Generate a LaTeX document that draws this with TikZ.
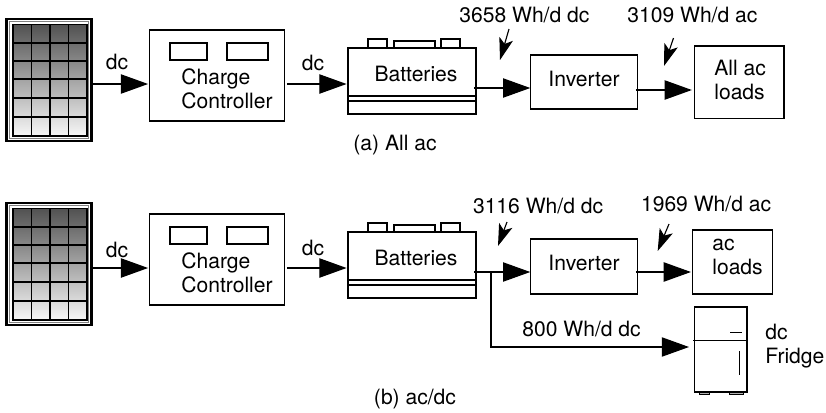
\documentclass[tikz,border=0pt]{standalone}
\usepackage{fontspec}
\setmainfont{TeX Gyre Heros}
\usetikzlibrary{arrows.meta}

\tikzset{
    unitbox/.style 2 args={draw, line width=0.65pt, inner sep=0pt, outer sep=0pt,
        minimum width=#1*0.02cm, minimum height=#2*0.02cm},
    caption/.style={inner sep=0pt, align=left, font=\fontsize{12}{13.6}\selectfont},
    flow/.style={-{Triangle[length=15.5pt, width=11pt]}, line width=0.65pt},
    tag/.style={-{Stealth[length=12.5pt, width=8pt, inset=3pt]}, line width=0.65pt},
}

\begin{document}
\begin{tikzpicture}[x=0.02cm, y=-0.02cm]
    \useasboundingbox (0,0) rectangle (826,413);

    % parts that both systems share
    \foreach \row/\dy/\dl/\dr in {A/0/62/63, B/184/250/248} {
        \node[unitbox={85}{122}, line width=1.5pt] (panel\row) at (48.75,80+\dy) {};
        \draw[gray, line width=0.4pt] (9.5,21.5+\dy) rectangle (88.5,138.5+\dy);
        \shade[top color=black!68, bottom color=black!3] (13,24.5+\dy) rectangle (87,136+\dy);
        \draw[line width=0.8pt] (13,24.5+\dy) rectangle (87,136+\dy);
        \foreach \gx in {31.5,50,68.5}
            \draw[line width=0.65pt] (\gx,24.5+\dy) -- (\gx,136+\dy);
        \foreach \gy in {43,61,79,98,117}
            \draw[line width=0.65pt] (13,\gy+\dy) -- (87,\gy+\dy);

        \node[unitbox={135}{91}] (ctrl\row) at (217,75.5+\dy) {};
        \draw[line width=0.65pt] (170,43+\dy) rectangle (207,60+\dy);
        \draw[line width=0.65pt] (227,43+\dy) rectangle (268,60+\dy);
        \node[caption, anchor=west] (ctrltext\row) at (181,88.5+\dy) {Charge\\Controller};

        \node[unitbox={128}{66}] (batt\row) at (412,81+\dy) {};
        \draw[line width=0.65pt] (348,96+\dy) -- (476,96+\dy);
        \draw[line width=0.65pt] (348,101+\dy) -- (476,101+\dy);
        \draw[line width=0.65pt] (368,48+\dy) -- (368,39+\dy) -- (387,39+\dy) -- (387,48+\dy);
        \draw[line width=0.65pt] (394,48+\dy) -- (394,41+\dy) -- (435,41+\dy) -- (435,48+\dy);
        \draw[line width=0.65pt] (441,48+\dy) -- (441,39+\dy) -- (460,39+\dy) -- (460,48+\dy);
        \node[caption] (batttext\row) at (416,74+\dy) {Batteries};

        \coordinate (in\row) at (120,84+\dy);
        \draw[flow] (panel\row.east |- in\row) -- ([xshift=-0.8pt]ctrl\row.west |- in\row);
        \draw[flow] ([xshift=1.5pt]ctrl\row.east |- in\row) -- ([xshift=-0.8pt]batt\row.west |- in\row);
        \node[caption] (dcone\row) at (117,\dl) {dc};
        \node[caption] (dctwo\row) at (313,\dr) {dc};
    }

    % (a) all ac
    \node[unitbox={107.5}{54}] (invA) at (584,82) {};
    \node[caption] (invtextA) at (584,79) {Inverter};
    \node[unitbox={89.5}{72.5}] (loadsA) at (739.25,82.25) {};
    \node[caption, anchor=west] (loadstextA) at (714,80) {All ac\\loads};
    \coordinate (busA) at (500,88);
    \coordinate (outA) at (670,90);
    \draw[flow] ([xshift=-1pt]battA.east |- busA) -- (invA.west |- busA);
    \draw[flow] ([xshift=-1pt]invA.east |- outA) -- ([xshift=-1.5pt]loadsA.west |- outA);
    \node[caption, anchor=west] (whbusA) at (459,15) {3658 Wh/d dc};
    \node[caption, anchor=west] (whoutA) at (627,15) {3109 Wh/d ac};
    \coordinate (tagbusA) at (509,29);
    \coordinate (tipbusA) at (500,60);
    \coordinate (tagoutA) at (673.5,38);
    \coordinate (tipoutA) at (664,66);
    \draw[tag] (tagbusA) -- (tipbusA);
    \draw[tag] (tagoutA) -- (tipoutA);
    \node[caption] (titleA) at (395,145) {(a) All ac};

    % (b) ac/dc
    \node[unitbox={107.5}{55}] (invB) at (584,266.5) {};
    \node[caption] (invtextB) at (584,263) {Inverter};
    \node[unitbox={80}{64}] (loadsB) at (732.7,262) {};
    \node[caption, anchor=west] (loadstextB) at (712,257) {ac\\loads};
    \node[unitbox={52.3}{85}] (fridge) at (720.85,349.5) {};
    \draw[line width=0.65pt] (693,340.5) -- (fridge.east |- 0,340.5);
    \draw[line width=0.5pt] (730,332) -- (742,332);
    \draw[line width=0.5pt] (739,351) -- (739,375);
    \draw[line width=0.4pt, fill=black!30] (699,392) rectangle (709,394);
    \draw[line width=0.4pt, fill=black!30] (729,392) rectangle (743,394);
    \node[caption, anchor=west] (fridgetext) at (765,346) {dc\\Fridge};
    \coordinate (busB) at (500,272);
    \coordinate (outB) at (670,272);
    \coordinate (tee) at (491,272);
    \coordinate (fridgein) at (689,347);
    \draw[flow] ([xshift=-1pt]battB.east |- busB) -- (invB.west |- busB);
    \draw[flow] ([xshift=-1pt]invB.east |- outB) -- ([xshift=-1pt]loadsB.west |- outB);
    \draw[flow] (tee) |- (fridgein);
    \node[caption, anchor=west] (whbusB) at (472.7,206) {3116 Wh/d dc};
    \node[caption, anchor=west] (whoutB) at (640.7,204) {1969 Wh/d ac};
    \node[caption, anchor=west] (whfridge) at (522,329) {800 Wh/d dc};
    \coordinate (tagbusB) at (507,222);
    \coordinate (tipbusB) at (498,246);
    \coordinate (tagoutB) at (669,224);
    \coordinate (tipoutB) at (657.7,251);
    \draw[tag] (tagbusB) -- (tipbusB);
    \draw[tag] (tagoutB) -- (tipoutB);
    \node[caption] (titleB) at (415,399) {(b) ac/dc};
\end{tikzpicture}
\end{document}
